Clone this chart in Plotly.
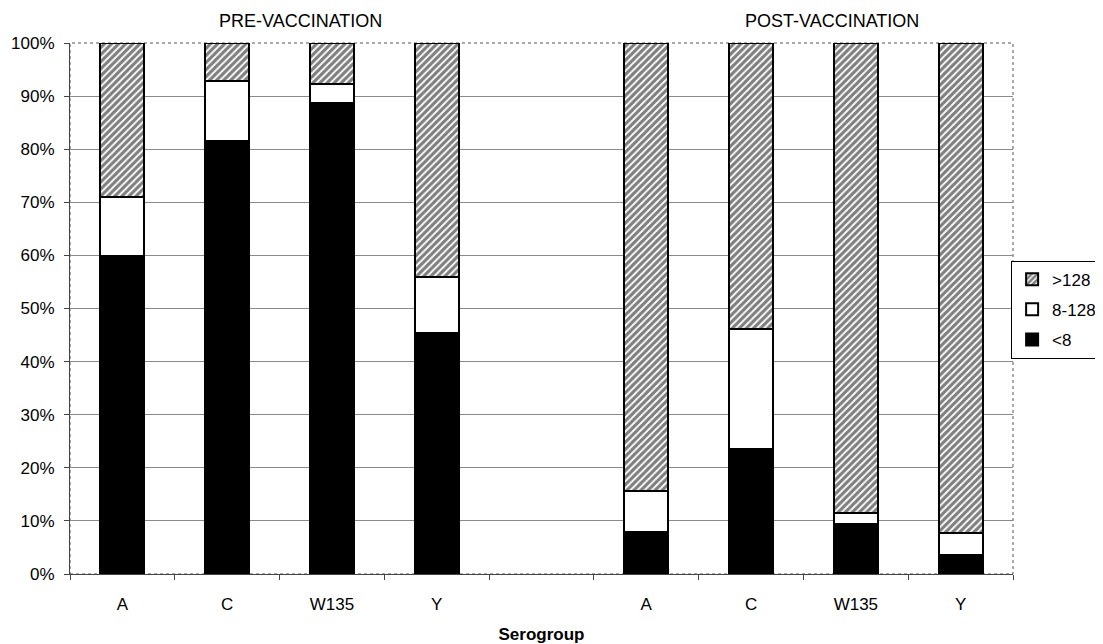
import plotly.graph_objects as go

# ---- data (percent of subjects) ----
serogroups = ["A", "C", "W135", "Y"]
panels = ["PRE-VACCINATION", "POST-VACCINATION"]
series_names = ["<8", "8-128", ">128"]

pre_lt8 = [59.8, 81.5, 88.7, 45.3]
pre_8_128 = [11.2, 11.3, 3.6, 10.7]
pre_gt128 = [29.0, 7.2, 7.7, 44.0]

post_lt8 = [8.0, 23.5, 9.5, 3.5]
post_8_128 = [7.6, 22.7, 1.9, 4.2]
post_gt128 = [84.4, 53.8, 88.6, 92.3]

y_ticks = [0, 10, 20, 30, 40, 50, 60, 70, 80, 90, 100]
y_ticklabels = [f"{v}%" for v in y_ticks]

# ---- layout helpers ----
gap = 1  # one empty slot between the two panels
pre_x = list(range(len(serogroups)))
post_x = [len(serogroups) + gap + i for i in range(len(serogroups))]
all_x = pre_x + post_x
all_labels = serogroups + serogroups

FONT = "Liberation Sans, Arial, sans-serif"

series_vals = [
    pre_lt8 + post_lt8,
    pre_8_128 + post_8_128,
    pre_gt128 + post_gt128,
]
styles = [
    dict(color="black", pattern=None),
    dict(color="white", pattern=None),
    dict(color="white", pattern=dict(shape="/", fgcolor="black", bgcolor="white",
                                     size=5, solidity=0.65, fillmode="overlay")),
]
ranks = [3, 2, 1]

fig = go.Figure()
for name, vals, st, rk in zip(series_names, series_vals, styles, ranks):
    marker = dict(color=st["color"], line=dict(color="black", width=2))
    if st["pattern"]:
        marker["pattern"] = st["pattern"]
    fig.add_trace(go.Bar(
        x=all_x, y=vals, name=name, marker=marker, width=0.42,
        legendgroup=name, legendrank=rk,
    ))

n_slots = len(all_x) + gap
fig.update_layout(
    width=1095, height=636,
    barmode="stack",
    plot_bgcolor="white", paper_bgcolor="white",
    margin=dict(l=62, r=90, t=35, b=70, autoexpand=False),
    font=dict(family=FONT, size=17, color="black"),
    legend=dict(
        x=0.998, y=0.59, xanchor="left", yanchor="top",
        traceorder="grouped", tracegroupgap=5,
        bordercolor="black", borderwidth=1, bgcolor="white",
        font=dict(family=FONT, size=17, color="black"),
        itemwidth=30,
    ),
    xaxis=dict(
        range=[-0.5, n_slots - 0.5],
        tickvals=all_x, ticktext=all_labels,
        ticks="", showgrid=False, zeroline=False,
        showline=True, linecolor="#444", linewidth=1,
        ticklabelstandoff=15,
        minor=dict(tick0=0.5, dtick=1, ticks="outside", ticklen=5,
                   tickcolor="#444", showgrid=False),
        title=dict(text="<b>Serogroup</b>", standoff=15,
                   font=dict(family=FONT, size=17)),
        tickfont=dict(family=FONT, size=17),
    ),
    yaxis=dict(
        range=[0, 100], tickvals=y_ticks, ticktext=y_ticklabels,
        ticks="outside", ticklen=5, tickcolor="#444",
        showgrid=True, gridcolor="#8a8a8a", gridwidth=1,
        zeroline=False, showline=True, linecolor="#444", linewidth=1,
        ticklabelstandoff=6,
        tickfont=dict(family=FONT, size=17),
    ),
    shapes=[dict(type="rect", xref="paper", yref="paper", x0=0, y0=0, x1=1, y1=1,
                 line=dict(color="#555", width=1, dash="dot"), layer="below")],
)

panel_centers = [0.244, 0.808]
for text, cx in zip(panels, panel_centers):
    fig.add_annotation(text=text, xref="paper", yref="paper", x=cx, y=1.041,
                       xanchor="center", yanchor="middle", showarrow=False,
                       font=dict(family=FONT, size=18, color="black"))

fig.write_html("out.html")
